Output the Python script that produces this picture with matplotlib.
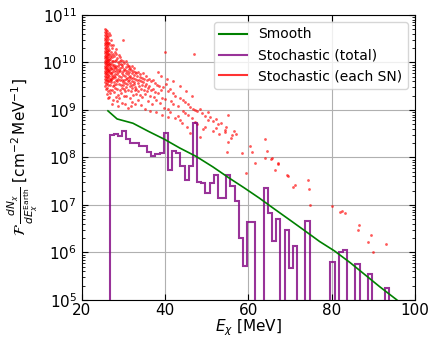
import numpy as np
import matplotlib
matplotlib.use("Agg")
import matplotlib.pyplot as plt
from matplotlib.lines import Line2D

# ---------------- data ----------------
# Smooth spectrum (E [MeV], log10 flux)
smooth_E = [26.3, 28.5, 32.3, 36.0, 39.9, 43.5, 47.5, 51.5, 55.5, 59.0, 62.7,
            66.0, 70.0, 73.5, 77.1, 80.7, 84.5, 88.0, 91.5, 95.5, 97.0]
smooth_log = [8.98, 8.81, 8.72, 8.55, 8.38, 8.20, 8.02, 7.80, 7.56, 7.36, 7.14,
              6.93, 6.68, 6.46, 6.23, 6.03, 5.78, 5.53, 5.28, 5.01, 4.90]

# Stochastic total histogram: first edge, bin width, log10 counts (None = empty bin)
hist_first_edge = 26.7
hist_bin_width = 1.0
hist_log = [8.47, 8.49, 8.45, 8.56, 8.38, 8.31, 8.30, 8.23, 8.23, 8.12,
            8.03, 8.07, 8.10, 8.51, 7.74, 8.14, 8.09, 7.82, 7.53, 7.81,
            8.73, 7.48, 7.46, 7.25, 7.47, 7.63, 7.14, 7.14, 7.64, 7.40,
            7.08, 6.31, 5.72, 6.63, 6.65, None, None, 7.35, 6.82, 6.23,
            6.70, None, 6.47, 5.67, 6.14, None, None, 6.67, None, None,
            None, None, None, 5.79, None, 6.00, 6.05, None, None, 5.76,
            None, None, 5.55, None, None, None, 5.25]

# Individual SN: dense column near threshold (energy, log10 flux values)
sn_columns = [
    (25.65, [10.70, 10.64, 10.58, 10.52, 10.47, 10.41, 10.36, 10.30, 10.25, 10.19, 10.14,
             10.09, 10.03, 9.98, 9.93, 9.88, 9.83, 9.78, 9.72, 9.66, 9.58, 9.50]),
    (25.85, [10.68, 10.61, 10.55, 10.50, 10.44, 10.38, 10.33, 10.28, 10.22, 10.16, 10.11,
             10.06, 10.01, 9.96, 9.91, 9.86, 9.80, 9.75, 9.69, 9.62, 9.55, 9.44]),
    (26.05, [10.66, 10.60, 10.53, 10.46, 10.40, 10.35, 10.27, 10.21, 10.17, 10.12, 10.07,
             10.02, 9.97, 9.92, 9.87, 9.82, 9.76, 9.70, 9.64, 9.57, 9.47, 9.34]),
    (26.25, [10.56, 10.49, 10.42, 10.37, 10.31, 10.24, 10.18, 10.13, 10.08, 10.04, 9.99,
             9.94, 9.89, 9.84, 9.79, 9.74, 9.68, 9.61, 9.52, 9.40, 9.25]),
]

# Individual SN: remaining points (energy, log10 flux)
sn_points = [
    (26.45, 10.62), (26.52, 10.41), (26.48, 10.18), (26.58, 9.97), (26.44, 9.85), (26.63, 9.71),
    (26.51, 9.60), (26.70, 9.43), (26.47, 9.28), (26.66, 10.27), (26.78, 10.08), (26.83, 9.90),
    (26.91, 9.77), (26.74, 9.66), (26.88, 9.52), (26.97, 10.36), (26.81, 10.58), (26.93, 10.15),
    (26.71, 9.94), (26.99, 9.62), (26.86, 9.35), (26.62, 9.83), (26.77, 9.99), (26.95, 9.86),
    (26.55, 10.05), (26.69, 10.12),
    (27.05, 10.47), (27.12, 10.22), (27.18, 10.03), (27.08, 9.88), (27.23, 9.74), (27.15, 9.58),
    (27.31, 9.42), (27.27, 10.31), (27.38, 10.11), (27.44, 9.93), (27.36, 9.80), (27.49, 9.67),
    (27.41, 9.50), (27.55, 9.21), (27.52, 10.18), (27.21, 9.96), (27.33, 9.69), (27.58, 9.86),
    (27.10, 9.78), (27.47, 10.02), (27.02, 9.65), (27.29, 9.12),
    (27.63, 10.36), (27.71, 10.14), (27.68, 9.95), (27.79, 9.83), (27.74, 9.71), (27.86, 9.59),
    (27.82, 9.38), (27.91, 10.23), (27.97, 10.02), (28.04, 9.89), (27.99, 9.76), (28.12, 9.64),
    (28.08, 9.47), (28.19, 9.27), (28.15, 10.17), (28.24, 9.93), (28.27, 9.81), (28.21, 9.55),
    (27.88, 9.91), (28.01, 9.70), (27.66, 9.52), (28.28, 10.06),
    (28.35, 10.28), (28.42, 10.09), (28.39, 9.87), (28.51, 9.75), (28.47, 9.61), (28.58, 9.44),
    (28.63, 10.01), (28.71, 9.92), (28.66, 9.79), (28.78, 9.66), (28.74, 9.32), (28.86, 10.15),
    (28.93, 9.96), (28.89, 9.84), (29.02, 9.72), (28.97, 9.55), (29.08, 9.41), (29.13, 10.04),
    (29.17, 9.88), (29.11, 9.63), (28.55, 9.18), (28.82, 9.08), (29.05, 9.25),
    (29.25, 10.12), (29.34, 9.97), (29.29, 9.82), (29.41, 9.70), (29.38, 9.53), (29.47, 9.36),
    (29.55, 10.05), (29.62, 9.90), (29.58, 9.77), (29.69, 9.64), (29.66, 9.47), (29.78, 9.95),
    (29.84, 9.83), (29.81, 9.58), (29.92, 10.48), (29.96, 9.73), (30.03, 10.02), (30.08, 9.87),
    (30.12, 9.62), (30.06, 9.44), (30.17, 9.29), (29.73, 9.14), (29.99, 9.52),
    (30.25, 9.98), (30.33, 9.85), (30.29, 9.71), (30.41, 9.57), (30.38, 9.40), (30.52, 10.04),
    (30.58, 9.90), (30.55, 9.77), (30.66, 9.65), (30.62, 9.49), (30.74, 9.30), (30.81, 9.96),
    (30.88, 9.82), (30.85, 9.68), (30.94, 9.55), (31.03, 9.92), (31.08, 9.76), (31.12, 9.61),
    (31.18, 9.43), (31.24, 9.86), (31.27, 9.70), (30.47, 9.13), (31.21, 9.05),
    (31.35, 9.93), (31.44, 9.79), (31.41, 9.63), (31.53, 9.50), (31.62, 9.88), (31.68, 9.72),
    (31.66, 9.56), (31.77, 9.39), (31.85, 9.84), (31.91, 9.67), (31.97, 9.52), (32.06, 9.93),
    (32.12, 9.77), (32.09, 9.61), (32.18, 9.46), (32.25, 9.31), (32.33, 9.82), (32.38, 9.68),
    (32.44, 9.54), (31.58, 9.25), (32.02, 9.16), (31.82, 9.08),
    (32.55, 9.88), (32.63, 9.73), (32.61, 9.58), (32.72, 9.42), (32.84, 9.80), (32.91, 9.66),
    (32.88, 9.48), (33.02, 9.33), (33.11, 9.77), (33.18, 9.62), (33.15, 9.45), (33.33, 9.71),
    (33.41, 9.57), (33.47, 9.39), (33.62, 9.80), (33.69, 9.64), (33.75, 9.50), (33.88, 9.69),
    (33.93, 9.31), (32.78, 9.12), (33.55, 9.20),
    (34.08, 9.76), (34.15, 9.60), (34.22, 9.45), (34.38, 9.68), (34.44, 9.52), (34.51, 9.27),
    (34.66, 9.78), (34.72, 9.58), (34.85, 9.41), (35.02, 9.66), (35.11, 9.50), (35.20, 9.33),
    (35.36, 9.71), (35.44, 9.55), (35.58, 9.39), (35.73, 9.62), (35.81, 9.46), (35.92, 9.19),
    (34.30, 9.10), (35.30, 9.02),
    (36.10, 9.65), (36.22, 9.50), (36.34, 9.30), (36.55, 9.60), (36.68, 9.43), (36.80, 9.12),
    (37.02, 9.62), (37.15, 9.45), (37.31, 9.27), (37.52, 9.57), (37.66, 9.38), (37.85, 9.20),
    (38.05, 9.53), (38.20, 9.80), (38.33, 9.36), (38.55, 9.50), (38.70, 9.15), (38.95, 9.72),
    (39.10, 9.42), (39.30, 9.25), (39.55, 9.48), (39.70, 9.04), (36.45, 8.98), (37.90, 8.95),
    (39.20, 8.90),
    (40.1, 10.21), (40.2, 9.55), (40.0, 9.22), (40.5, 9.66), (40.6, 9.40), (40.8, 9.02),
    (40.7, 8.85), (41.2, 9.44), (41.4, 9.18), (41.1, 8.95), (41.8, 9.36), (41.9, 9.12),
    (42.0, 9.60), (42.4, 9.30), (42.5, 8.82), (43.0, 9.08), (43.2, 8.88), (43.5, 9.50),
    (43.7, 9.26), (43.6, 8.78), (44.2, 9.20), (44.4, 8.98), (44.1, 8.72), (44.8, 9.17),
    (44.9, 8.93), (45.0, 9.40), (45.4, 9.12), (45.5, 8.90), (45.3, 8.65), (45.9, 9.06),
    (45.9, 8.52), (46.5, 9.30), (46.6, 9.03), (46.4, 8.82), (47.0, 10.17), (47.1, 9.00),
    (47.2, 8.75), (47.6, 8.98), (47.7, 8.70), (48.3, 9.02), (48.4, 8.42), (48.9, 8.93),
    (49.0, 8.60), (49.5, 8.88), (49.6, 8.65), (50.3, 8.95), (50.4, 8.78), (50.9, 8.85),
    (51.5, 8.77), (51.6, 8.55), (52.2, 8.80), (52.3, 8.62), (52.8, 8.70), (52.9, 8.50),
    (53.5, 8.72), (54.3, 8.58), (54.4, 8.54), (54.8, 8.12), (54.7, 8.65), (55.1, 8.33),
    (55.2, 8.89), (55.9, 8.40), (56.0, 8.48), (56.5, 8.55), (57.1, 8.49), (58.4, 8.10),
    (59.5, 7.67), (60.4, 8.24), (60.9, 8.12), (61.5, 7.88), (64.1, 8.39), (64.1, 7.98),
    (64.5, 8.14), (65.5, 7.96), (65.7, 7.99), (66.5, 7.74), (67.1, 7.86), (67.2, 7.88),
    (69.2, 7.63), (69.5, 7.60), (70.8, 7.38), (71.3, 7.42), (74.3, 7.52), (74.5, 7.34),
    (74.7, 7.00), (80.1, 6.98), (81.9, 6.86), (82.6, 6.88), (83.1, 6.82), (86.3, 6.47),
    (86.5, 6.58), (88.8, 6.21), (89.5, 6.37), (90.0, 6.00), (93.1, 6.18),
]

x_ticks = [20, 40, 60, 80, 100]

# ---------------- plot ----------------
plt.rcParams['font.family'] = ['DejaVu Sans']
fig = plt.figure(figsize=(4.3, 3.4), dpi=100)
ax = fig.add_axes([0.19, 0.118, 0.775, 0.838])

sn_E, sn_F = [], []
for e, logs in sn_columns:
    for v in logs:
        sn_E.append(e)
        sn_F.append(10.0 ** v)
for e, v in sn_points:
    sn_E.append(e)
    sn_F.append(10.0 ** v)
ax.plot(sn_E, sn_F, ls='none', marker='o', ms=2.0, mew=0, color='red', alpha=0.65, zorder=2)

vals = np.array([0.0 if v is None else 10.0 ** v for v in hist_log])
edges = hist_first_edge + hist_bin_width * np.arange(len(vals) + 1)
ax.stairs(vals, edges, baseline=0, color='purple', lw=1.5, alpha=0.8, zorder=3)

ax.plot(smooth_E, [10.0 ** v for v in smooth_log], color='green', lw=1.2, zorder=4)

ax.set_yscale('log')
ax.set_xlim(20, 100)
ax.set_ylim(1e5, 1e11)
ax.set_xticks(x_ticks)
ax.grid(True, which='major', color='#b0b0b0', lw=0.8)
ax.set_axisbelow(True)
ax.tick_params(which='both', direction='in', top=True, right=True, labelsize=11)
ax.tick_params(axis='x', pad=2)
ax.tick_params(which='major', length=4)
ax.tick_params(which='minor', length=2)
ax.set_xlabel(r'$E_\chi$ [MeV]', fontsize=11, labelpad=0)
ax.set_ylabel(r'$\mathcal{F}\,\frac{dN_\chi}{dE_\chi^{\rm Earth}}$ [cm$^{-2}\,$MeV$^{-1}$]',
              fontsize=11, labelpad=2)

handles = [Line2D([], [], color='green', lw=1.5),
           Line2D([], [], color='purple', lw=1.5, alpha=0.8),
           Line2D([], [], color='red', lw=1.5, alpha=0.8)]
ax.legend(handles, ['Smooth', 'Stochastic (total)', 'Stochastic (each SN)'],
          loc='upper right', fontsize=10, framealpha=0.8)

fig.savefig('out.png', dpi=100)
